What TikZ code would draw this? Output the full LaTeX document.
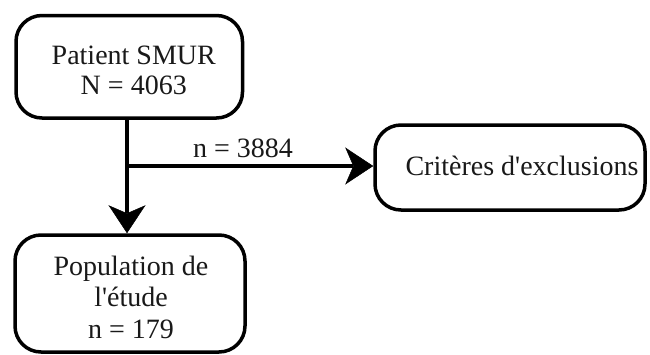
\documentclass[tikz,border=0pt]{standalone}
\usepackage{fontspec}
\setmainfont{Liberation Serif}
\usetikzlibrary{arrows.meta}
\begin{document}
\begin{tikzpicture}[x=1pt,y=-1pt,
  box/.style={draw=black, line width=3.5pt, rounded corners=26pt, inner sep=0pt, fill=white},
  txt/.style={font=\fontsize{28}{30}\selectfont, align=center, inner sep=0pt, text=black!90},
  flow/.style={line width=3.5pt, -{Stealth[length=28pt,width=37pt,inset=8pt,line width=0.5pt]}}]
\useasboundingbox (0,0) rectangle (650,354);
\node[box, minimum width=226.5pt, minimum height=102.5pt,
      label={[txt, xshift=4.5pt, yshift=-4pt]center:{Patient SMUR\\N = 4063}}] (top) at (129.25,66.75) {};
\node[box, minimum width=230pt, minimum height=117pt,
      label={[txt, font=\fontsize{28}{31.5}\selectfont, xshift=1pt, yshift=-3.5pt]center:{Population de\\l\textquotesingle étude\\n = 179}}] (bot) at (130,293.5) {};
\node[box, minimum width=270pt, minimum height=85pt,
      label={[txt, xshift=12pt, yshift=2pt]center:{Critères d\textquotesingle exclusions}}] (crit) at (510,167.5) {};
\coordinate (j) at (127,166);
\draw[flow] (top.south -| j) -- (bot.north -| j);
\draw[flow] (j) -- (crit.west |- j);
\node[txt] (n) at (243,148) {n = 3884};
\end{tikzpicture}
\end{document}
